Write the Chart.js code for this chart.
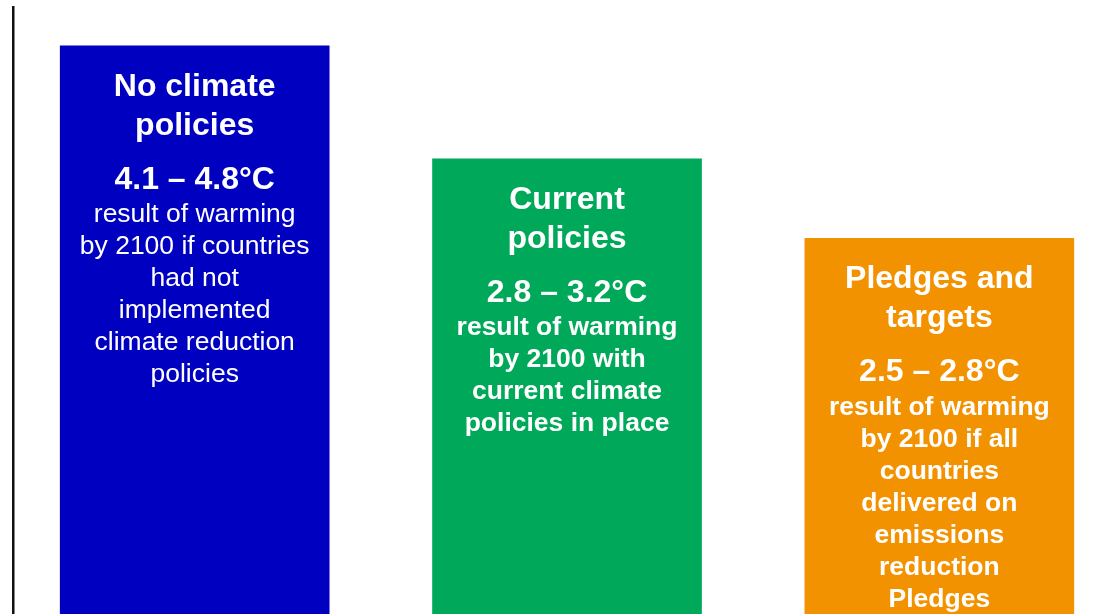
<!DOCTYPE html>
<html>
<head>
<meta charset="utf-8">
<script src="https://cdn.jsdelivr.net/npm/chart.js@4.4.0/dist/chart.umd.min.js"></script>
<style>
  html, body { margin: 0; padding: 0; background: #fff; overflow: hidden; }
  #chart { display: block; }
</style>
</head>
<body>
<canvas id="chart" width="1108" height="614"></canvas>
<script>
// Scenario bars: heights are relative (illustrative), text lives inside each bar
const categories = ['No climate policies', 'Current policies', 'Pledges and targets'];
const barHeights = [93.6, 75.0, 61.9];
const barColors = ['#0000C0', '#00A85A', '#F39200'];
const titleLines = [
  ['No climate', 'policies'],
  ['Current', 'policies'],
  ['Pledges and', 'targets']
];
const rangeLabels = ['4.1 – 4.8°C', '2.8 – 3.2°C', '2.5 – 2.8°C'];
const bodyLines = [
  ['result of warming', 'by 2100 if countries', 'had not', 'implemented', 'climate reduction', 'policies'],
  ['result of warming', 'by 2100 with', 'current climate', 'policies in place'],
  ['result of warming', 'by 2100 if all', 'countries', 'delivered on', 'emissions', 'reduction', 'Pledges']
];
const bodyBold = [false, true, true];

const FONT = "'Liberation Sans', Arial, sans-serif";

const barText = {
  id: 'barText',
  afterDatasetsDraw(chart) {
    const ctx = chart.ctx;
    const meta = chart.getDatasetMeta(0);
    ctx.save();
    ctx.fillStyle = '#fff';
    ctx.textAlign = 'center';
    ctx.textBaseline = 'middle';
    meta.data.forEach((bar, i) => {
      const cx = bar.x;
      let y = bar.y + 41;
      ctx.font = 'bold 32px ' + FONT;
      titleLines[i].forEach(t => { ctx.fillText(t, cx, y); y += 39; });
      y = bar.y + 134;
      ctx.fillText(rangeLabels[i], cx, y);
      y = bar.y + 169;
      ctx.font = (bodyBold[i] ? 'bold ' : '') + '26.5px ' + FONT;
      bodyLines[i].forEach(t => { ctx.fillText(t, cx, y); y += 32; });
    });
    ctx.restore();
  }
};

new Chart(document.getElementById('chart'), {
  type: 'bar',
  data: {
    datasets: [{
      label: 'Warming scenarios',
      data: barHeights.map((v, i) => ({ x: i, y: v })),
      backgroundColor: barColors,
      borderWidth: 0,
      barThickness: 269
    }]
  },
  options: {
    responsive: false,
    animation: false,
    layout: { padding: { left: 13, top: 7, right: 0, bottom: 0 } },
    plugins: { legend: { display: false }, tooltip: { enabled: false } },
    scales: {
      x: { type: 'linear', offset: false, min: -0.488, max: 2.453, display: false },
      y: {
        min: 0, max: 100,
        ticks: { display: false },
        grid: { display: false, drawTicks: false },
        border: { display: true, color: '#111', width: 2.5 }
      }
    }
  },
  plugins: [barText]
});
</script>
</body>
</html>
